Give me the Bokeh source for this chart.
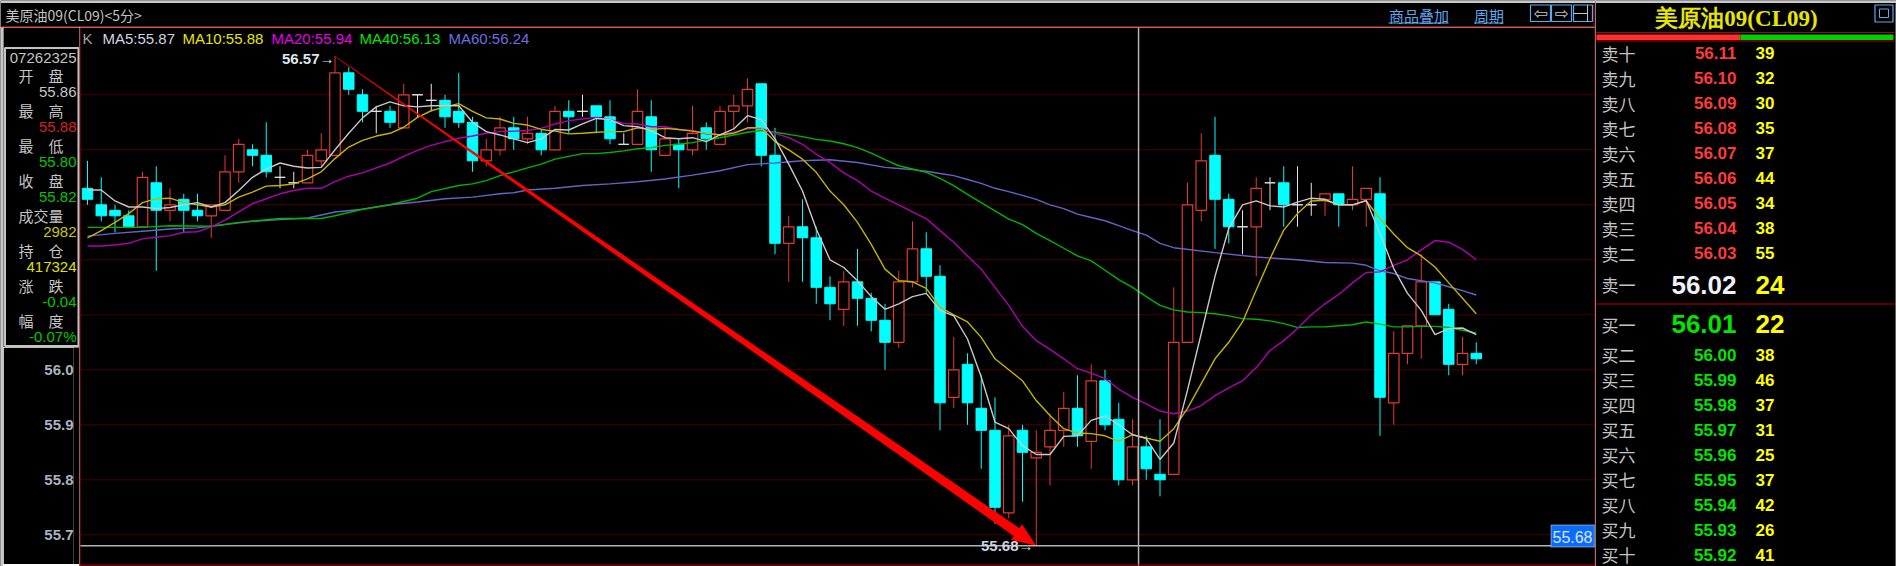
from bokeh.embed import file_html
from bokeh.resources import INLINE
from bokeh.plotting import figure
from bokeh.layouts import row, column
from bokeh.models import (BoxAnnotation, ColumnDataSource, FixedTicker, Label, LinearAxis,
                          NumeralTickFormatter, Range1d, Span)
from bokeh.core.properties import value

opens = [56.33,56.30,56.29,56.28,56.26,56.34,56.29,56.31,56.29,56.28,56.29,56.36,56.40,56.39,56.35,56.34,56.34,
         56.38,56.39,56.54,56.50,56.47,56.47,56.44,56.50,56.49,56.49,56.47,56.45,56.38,56.40,56.44,56.42,56.43,
         56.40,56.47,56.47,56.48,56.46,56.41,56.41,56.46,56.39,56.41,56.40,56.44,56.41,56.47,56.48,56.52,56.39,
         56.23,56.26,56.24,56.15,56.11,56.16,56.13,56.09,56.05,56.16,56.22,56.17,55.95,56.01,55.93,55.89,55.74,
         55.89,55.84,55.86,55.89,55.93,55.87,55.98,55.91,55.80,55.86,55.81,55.81,56.05,56.29,56.39,56.31,56.26,
         56.26,56.34,56.34,56.30,56.30,56.31,56.32,56.30,56.31,56.32,55.94,56.03,56.08,56.16,56.11,56.01,56.03]
highs = [56.38,56.35,56.30,56.29,56.36,56.37,56.33,56.32,56.32,56.30,56.39,56.42,56.41,56.45,56.37,56.36,56.40,
         56.43,56.57,56.55,56.51,56.48,56.48,56.52,56.50,56.52,56.50,56.54,56.46,56.42,56.46,56.46,56.46,56.44,
         56.48,56.49,56.50,56.48,56.49,56.43,56.51,56.49,56.44,56.42,56.48,56.45,56.48,56.50,56.53,56.52,56.44,
         56.28,56.31,56.26,56.17,56.18,56.22,56.14,56.12,56.18,56.27,56.25,56.19,56.06,56.03,55.99,55.95,55.90,
         55.90,55.89,55.92,55.96,55.99,56.01,56.00,55.94,55.91,55.88,55.91,56.15,56.34,56.43,56.46,56.32,56.29,
         56.35,56.35,56.37,56.37,56.34,56.32,56.32,56.37,56.33,56.35,56.07,56.08,56.21,56.16,56.12,56.06,56.05]
lows = [56.30,56.27,56.25,56.26,56.26,56.18,56.27,56.25,56.27,56.24,56.29,56.34,56.37,56.35,56.33,56.33,56.34,
        56.37,56.39,56.50,56.45,56.43,56.44,56.44,56.46,56.47,56.44,56.44,56.36,56.37,56.39,56.40,56.41,56.39,
        56.40,56.43,56.46,56.43,56.41,56.41,56.41,56.36,56.39,56.33,56.39,56.40,56.41,56.44,56.45,56.37,56.21,
        56.16,56.16,56.12,56.09,56.08,56.08,56.07,56.00,56.04,56.15,56.14,55.89,55.93,55.90,55.82,55.72,55.73,
        55.76,55.68,55.79,55.86,55.86,55.82,55.89,55.79,55.79,55.80,55.77,55.81,56.05,56.27,56.22,56.23,56.21,
        56.17,56.29,56.26,56.26,56.28,56.28,56.26,56.29,56.26,55.88,55.90,56.01,56.02,56.10,55.99,55.99,56.01]
closes = [56.31,56.28,56.28,56.26,56.35,56.29,56.30,56.29,56.28,56.30,56.36,56.41,56.39,56.36,56.35,56.34,56.39,
          56.40,56.54,56.51,56.47,56.47,56.45,56.50,56.50,56.49,56.46,56.45,56.38,56.40,56.44,56.42,56.43,56.40,
          56.47,56.46,56.47,56.46,56.42,56.41,56.47,56.40,56.42,56.40,56.43,56.42,56.47,56.48,56.51,56.39,56.23,
          56.26,56.24,56.15,56.12,56.16,56.13,56.09,56.05,56.16,56.22,56.17,55.94,56.00,55.94,55.89,55.75,55.88,
          55.85,55.85,55.89,55.93,55.88,55.98,55.90,55.80,55.86,55.82,55.80,56.05,56.30,56.38,56.31,56.26,56.26,
          56.33,56.34,56.30,56.30,56.30,56.32,56.30,56.31,56.33,55.95,56.03,56.08,56.16,56.10,56.01,56.03,56.02]

ma5 = [56.327,56.327,56.307,56.296,56.296,56.293,56.295,56.300,56.304,56.296,56.304,56.326,56.350,56.365,56.376,
       56.370,56.367,56.368,56.400,56.430,56.458,56.478,56.487,56.480,56.478,56.480,56.480,56.480,56.450,56.433,
       56.427,56.420,56.413,56.420,56.437,56.436,56.447,56.457,56.455,56.444,56.442,56.435,56.422,56.420,56.422,
       56.415,56.427,56.438,56.462,56.455,56.420,56.374,56.325,56.256,56.200,56.186,56.162,56.133,56.110,56.120,
       56.133,56.139,56.108,56.098,56.056,55.987,55.905,55.893,55.862,55.846,55.846,55.879,55.880,55.908,55.916,
       55.900,55.882,55.875,55.837,55.867,55.963,56.066,56.170,56.257,56.300,56.307,56.298,56.296,56.305,56.312,
       56.310,56.300,56.300,56.308,56.248,56.184,56.139,56.108,56.064,56.075,56.076,56.064]
ma10 = [56.240,56.253,56.268,56.284,56.304,56.311,56.312,56.304,56.300,56.296,56.300,56.314,56.323,56.334,56.335,
        56.338,56.347,56.360,56.384,56.405,56.417,56.425,56.430,56.441,56.459,56.471,56.478,56.484,56.470,56.458,
        56.456,56.448,56.445,56.437,56.434,56.429,56.430,56.432,56.433,56.433,56.440,56.437,56.439,56.437,56.434,
        56.430,56.427,56.430,56.440,56.440,56.415,56.400,56.383,56.359,56.325,56.300,56.268,56.228,56.183,56.162,
        56.160,56.148,56.114,56.100,56.087,56.059,56.020,56.000,55.980,55.944,55.917,55.893,55.885,55.884,55.880,
        55.870,55.882,55.876,55.870,55.893,55.930,55.975,56.020,56.050,56.087,56.145,56.202,56.254,56.284,56.307,
        56.308,56.300,56.300,56.307,56.275,56.247,56.222,56.207,56.187,56.158,56.130,56.102]
ma20 = [56.225,56.225,56.227,56.230,56.238,56.241,56.244,56.250,56.251,56.260,56.272,56.287,56.302,56.311,56.320,
        56.326,56.330,56.330,56.342,56.352,56.358,56.367,56.376,56.388,56.399,56.408,56.415,56.421,56.425,56.430,
        56.433,56.434,56.435,56.439,56.447,56.453,56.456,56.459,56.455,56.448,56.447,56.442,56.442,56.437,56.435,
        56.429,56.428,56.432,56.438,56.439,56.430,56.422,56.410,56.392,56.377,56.358,56.344,56.325,56.312,56.300,
        56.287,56.275,56.253,56.232,56.207,56.183,56.150,56.117,56.079,56.053,56.037,56.020,56.002,55.994,55.984,
        55.965,55.950,55.938,55.925,55.920,55.925,55.935,55.953,55.967,55.980,56.004,56.035,56.053,56.075,56.100,
        56.120,56.137,56.158,56.177,56.178,56.190,56.200,56.218,56.235,56.232,56.219,56.200]
ma40_idx = [0,4,6,9,11,14,17,18,20,22,24,25,27,28,29,30,31,32,33,34,35,36,37,38,39,40,41,42,43,44,45,46,47,48,49,
            50,51,52,53,54,55,56,57,58,59,60,61,62,63,64,65,66,67,68,69,70,71,72,73,74,75,76,77,78,79,80,81,82,83,
            84,85,86,87,88,89,90,91,92,93,94,95,96,97,98,99,100,101]
ma40 = [56.259,56.259,56.262,56.261,56.268,56.275,56.275,56.280,56.292,56.300,56.312,56.324,56.335,56.338,56.344,
        56.353,56.360,56.367,56.374,56.383,56.388,56.393,56.393,56.395,56.398,56.402,56.404,56.408,56.410,56.413,
        56.418,56.422,56.427,56.432,56.435,56.432,56.428,56.424,56.419,56.416,56.411,56.404,56.394,56.382,56.371,
        56.365,56.359,56.348,56.335,56.319,56.304,56.289,56.274,56.264,56.248,56.235,56.221,56.207,56.198,56.181,
        56.164,56.150,56.133,56.117,56.109,56.105,56.104,56.102,56.098,56.093,56.092,56.089,56.084,56.077,56.078,
        56.078,56.080,56.082,56.087,56.083,56.078,56.078,56.079,56.079,56.077,56.072,56.067]
ma60_idx = [0,2,4,6,8,10,12,14,16,18,20,22,24,26,28,30,31,32,34,36,38,40,42,44,46,48,50,52,54,56,58,59,60,61,62,63,
            64,65,66,67,68,69,70,71,72,73,74,75,76,77,78,79,82,85,88,90,92,93,94,95,96,97,98,99,100,101]
ma60 = [56.243,56.248,56.252,56.256,56.258,56.264,56.270,56.273,56.276,56.287,56.292,56.300,56.305,56.311,56.314,
        56.320,56.322,56.327,56.330,56.335,56.338,56.342,56.347,56.354,56.362,56.373,56.376,56.380,56.382,56.377,
        56.368,56.366,56.364,56.361,56.357,56.353,56.346,56.339,56.330,56.324,56.317,56.310,56.300,56.293,56.283,
        56.277,56.271,56.262,56.253,56.245,56.230,56.222,56.213,56.205,56.200,56.195,56.194,56.190,56.180,56.175,
        56.166,56.162,56.158,56.151,56.144,56.136]

price_ticks = [55.7, 55.8, 55.9, 56.0]
grid_levels = [55.7, 55.8, 55.9, 56.0, 56.1, 56.2, 56.3, 56.4, 56.5]
high_mark = (18, 56.57)
low_mark = (69, 55.68)
cursor_x = 76.44

legend_names = ["MA5:55.87", "MA10:55.88", "MA20:55.94", "MA40:56.13", "MA60:56.24"]
info_names = ["开　盘", "最　高", "最　低", "收　盘", "成交量", "持　仓", "涨　跌", "幅　度"]
info_values = ["55.86", "55.88", "55.80", "55.82", "2982", "417324", "-0.04", "-0.07%"]

ask_names = ["卖十", "卖九", "卖八", "卖七", "卖六", "卖五", "卖四", "卖三", "卖二"]
ask_prices = [56.11, 56.10, 56.09, 56.08, 56.07, 56.06, 56.05, 56.04, 56.03]
ask_sizes = [39, 32, 30, 35, 37, 44, 34, 38, 55]
bid_names = ["买二", "买三", "买四", "买五", "买六", "买七", "买八", "买九", "买十"]
bid_prices = [56.00, 55.99, 55.98, 55.97, 55.96, 55.95, 55.94, 55.93, 55.92]
bid_sizes = [38, 46, 37, 31, 25, 37, 42, 26, 41]

# Styling
BG = "#000000"
RED = "#b80000"
CANDLE_RED = "#e03a32"
CYAN = "#00ffff"
DOJI = "#e6e6e6"
SILVER = "#c4c4c4"
FRAME_GRAY = "#c8c8c8"
BLUE = "#5ea8f0"
NUM = "Liberation Sans"
CJK = "Noto Sans CJK SC"
STEP = 13.75     # px per candle
SCALE = 550.0    # px per price unit
X0, Y56 = 87.0, 369.3  # reference pixel of candle 0 and of price 56


def dx(px):
    return (px - X0) / STEP


def dy(py):
    return 56 + (Y56 - py) / SCALE


def pixel_fig(x0, x1, y0, y1):
    """A panel whose data coordinates are picture pixels."""
    f = figure(width=x1 - x0, height=y1 - y0, output_backend="svg", toolbar_location=None,
               x_range=Range1d(x0, x1), y_range=Range1d(y1, y0),
               x_axis_location=None, y_axis_location=None,
               min_border_left=0, min_border_right=0, min_border_top=0, min_border_bottom=0,
               background_fill_color=BG, border_fill_color=BG, outline_line_color=None)
    f.xgrid.visible = False
    f.ygrid.visible = False
    return f


def texts(f, xs, ys, strs, color, size, font=NUM, style="normal", align="left"):
    f.text(xs, ys, text=strs, text_color=color, text_font=value(font), text_font_size=f"{size}px",
           text_font_style=style, text_align=align, text_baseline="middle")


def rect(f, x0, x1, y0, y1, fill=None, line=None, width=1):
    f.quad(left=[x0], right=[x1], top=[y0], bottom=[y1], fill_color=fill, line_color=line, line_width=width)


# ---------------- chart ----------------
p = figure(width=1516, height=539, output_backend="svg", toolbar_location=None,
           x_range=Range1d(dx(79), dx(1595)), y_range=Range1d(dy(566), dy(27)),
           x_axis_location=None, y_axis_location=None,
           min_border_left=0, min_border_right=0, min_border_top=0, min_border_bottom=0,
           background_fill_color=BG, border_fill_color=BG, outline_line_color=None)
p.xgrid.visible = False
p.ygrid.visible = False

for lvl in grid_levels:
    p.add_layout(Span(location=lvl, dimension="width", line_color="#8c0000", line_width=1,
                      line_dash="1 1", level="underlay"))

idx = list(range(len(opens)))
kinds = ["up" if c > o else "down" if c < o else "flat" for o, c in zip(opens, closes)]
colors = {"up": CANDLE_RED, "down": CYAN, "flat": DOJI}
for kind in ("up", "down", "flat"):
    sel = [i for i in idx if kinds[i] == kind]
    src = ColumnDataSource(dict(x=sel, h=[highs[i] for i in sel], l=[lows[i] for i in sel],
                                t=[max(opens[i], closes[i]) for i in sel],
                                b=[min(opens[i], closes[i]) for i in sel]))
    col = colors[kind]
    p.segment("x", "h", "x", "l", source=src, line_color=col, line_width=1)
    body_fill = BG if kind == "up" else col
    p.vbar("x", 10.5 / STEP, "t", "b", source=src, fill_color=body_fill, line_color=col,
           line_width=1.2 if kind == "up" else 1)

p.line(ma60_idx, ma60, line_color="#6464c8", line_width=1.4)
p.line(ma40_idx, ma40, line_color="#00b400", line_width=1.4)
p.line(idx, ma20, line_color="#b000b0", line_width=1.4)
p.line(idx, ma10, line_color="#c4b400", line_width=1.4)
p.line(idx, ma5, line_color="#c8c8c8", line_width=1.4)

# Tapered red arrow from the high to the low, built in pixel space then mapped to data
hx, hy = high_mark
lx, ly = low_mark
ax, ay = (lx - hx) * STEP, (hy - ly) * SCALE
length = (ax * ax + ay * ay) ** 0.5
ux, uy = ax / length, ay / length
nx, ny = -uy, ux


def along(dist, off):
    return hx + (ux * dist + nx * off) / STEP, hy - (uy * dist + ny * off) / SCALE


base = length - 24
outline = [along(0, 0.3), along(base, 4.8), along(base, 9.5), along(length, 0),
           along(base, -9.5), along(base, -4.8), along(0, -0.3)]
p.patch([pt[0] for pt in outline], [pt[1] for pt in outline], fill_color="#ff0000", line_color=None)

p.add_layout(Span(location=cursor_x, dimension="height", line_color="#b4b4b4", line_width=1.5))
p.add_layout(Span(location=low_mark[1], dimension="width", line_color="#b4b4b4", line_width=1.5))
p.add_layout(Span(location=dx(79.5), dimension="height", line_color=RED, line_width=1))
p.add_layout(Span(location=dx(1594.5), dimension="height", line_color=RED, line_width=1))
p.add_layout(Span(location=dy(564.5), dimension="width", line_color=RED, line_width=1))


def label(px, py, text, color=SILVER, size=15, font=NUM, style="normal", align="left"):
    p.add_layout(Label(x=dx(px), y=dy(py), text=text, text_color=color, text_font=font,
                       text_font_size=f"{size}px", text_font_style=style, text_align=align,
                       text_baseline="middle"))


label(82, 38, "K", color="#a0a0a0", size=15)
legend_x = [102, 182, 271, 359, 448]
legend_c = ["#d0d4e0", "#e6e600", "#e600e6", "#00e600", "#6e6ee0"]
for lx_, name, col in zip(legend_x, legend_names, legend_c):
    label(lx_, 38, name, color=col, size=15)

label(334, 58, "56.57→", color="#dfe6f0", size=15, style="bold", align="right")
label(1033, 545, "55.68→", color="#cfd6e0", size=15, style="bold", align="right")

p.add_layout(BoxAnnotation(left=dx(1550.5), right=dx(1594), top=dy(524.5), bottom=dy(546.5), fill_color="#0a6cff",
                           fill_alpha=1, line_color="#ffffff", line_width=1.5, editable=False))
label(1572, 536, "55.68", color="#d8e6ff", size=16, align="center")

# ---------------- header strip ----------------
h = pixel_fig(0, 1595, 0, 27)
rect(h, 0, 1595, 0, 2.5, fill=FRAME_GRAY)
h.segment([0], [26], [1595], [26], line_color=RED, line_width=1)
h.segment([1593.5], [3], [1593.5], [27], line_color=RED, line_width=1)
texts(h, [5], [14.5], ["美原油09(CL09)<5分>"], SILVER, 14, font=CJK)
texts(h, [1418.5], [14.5], ["商品叠加"], BLUE, 15, font=CJK, align="center")
texts(h, [1488.5], [14.5], ["周期"], BLUE, 15, font=CJK, align="center")
h.segment([1388, 1474], [22.5, 22.5], [1448, 1503], [22.5, 22.5], line_color=BLUE, line_width=1)
for left, right, mark in ((1530, 1550, "⇦"), (1551, 1571, "⇨")):
    rect(h, left, right, 4.5, 21, line=BLUE, width=1.2)
    texts(h, [(left + right) / 2], [12.5], [mark], SILVER, 17, font="DejaVu Sans", align="center")
rect(h, 1573, 1592, 4.5, 21, line=BLUE, width=1.2)
h.segment([1573], [13], [1587], [13], line_color=SILVER, line_width=1)
h.segment([1587], [4.5], [1587], [21], line_color=SILVER, line_width=1)

# ---------------- left information box ----------------
INFO_TOP, INFO_BOT = 27, 347
info = pixel_fig(3, 79, INFO_TOP, INFO_BOT)
rect(info, 4.5, 78, 47.5, 345.5, line=SILVER, width=2)
texts(info, [76], [57], ["07262325"], SILVER, 15, align="right")
value_colors = [SILVER, "#d82020", "#00c800", "#00c800", "#c8c800", "#e0e000", "#00c800", "#00c800"]
info_name_y = [75 + 35 * k for k in range(len(info_names))]
info_value_y = [91 + 35 * k for k in range(len(info_names))]
texts(info, [40.5] * 8, info_name_y, info_names, SILVER, 15, font=CJK, align="center")
for yy, val, col in zip(info_value_y, info_values, value_colors):
    texts(info, [76], [yy], [val], col, 15, align="right")

# ---------------- price axis ----------------
AXIS_BOT = 564
axis_fig = figure(width=76, height=AXIS_BOT - INFO_BOT, output_backend="svg", toolbar_location=None,
                  x_range=Range1d(0, 1), y_range=Range1d(dy(AXIS_BOT), dy(INFO_BOT)),
                  x_axis_location=None, y_axis_location=None,
                  min_border_left=70, min_border_right=0, min_border_top=0, min_border_bottom=0,
                  background_fill_color=BG, border_fill_color=BG, outline_line_color=None)
axis_fig.xgrid.visible = False
axis_fig.ygrid.visible = False
axis_fig.add_layout(LinearAxis(ticker=FixedTicker(ticks=price_ticks),
                               formatter=NumeralTickFormatter(format="0.0"),
                               axis_line_color=None, major_tick_line_color=None, minor_tick_line_color=None,
                               major_label_text_color="#aab4c0", major_label_text_font=NUM,
                               major_label_text_font_size="15px", major_label_text_font_style="bold",
                               major_tick_in=0, major_tick_out=0, major_label_standoff=0), "left")

# Thin window-edge strips
strip_bottom = pixel_fig(3, 79, 564, 566)
rect(strip_bottom, 3, 79, 564, 565, fill=RED)
strip_left = pixel_fig(0, 3, 27, 566)
rect(strip_left, 0, 2.5, 27, 566, fill=FRAME_GRAY)

# ---------------- quote panel ----------------
q = pixel_fig(1595, 1896, 0, 566)
rect(q, 1595, 1896, 0, 2.5, fill=FRAME_GRAY)
q.segment([1595, 1595, 1595], [32, 40.5, 303.5], [1894, 1894, 1896], [32, 40.5, 303.5],
          line_color=RED, line_width=1)
q.segment([1895], [3], [1895], [566], line_color="#606060", line_width=1)
rect(q, 1596, 1740, 34, 39.5, fill="#ff3030")
rect(q, 1740, 1893, 34, 39.5, fill="#00d000")
rect(q, 1874.5, 1892.5, 4.5, 21.5, line=BLUE, width=1.2)
rect(q, 1879, 1888, 8.5, 17, line=BLUE, width=1)
texts(q, [1736], [17.5], ["美原油09(CL09)"], "#e6e600", 23, font="Liberation Serif", style="bold", align="center")

ask_y = [52.7 + 25 * k for k in range(len(ask_names))]
bid_y = [354 + 25 * k for k in range(len(bid_names))]
texts(q, [1601] * 9, ask_y, ask_names, SILVER, 17, font=CJK)
texts(q, [1736] * 9, ask_y, [f"{v:.2f}" for v in ask_prices], "#ff3a3a", 17, style="bold", align="right")
texts(q, [1755] * 9, ask_y, [str(v) for v in ask_sizes], "#ffff00", 17, style="bold")
texts(q, [1601], [284], ["卖一"], SILVER, 17, font=CJK)
texts(q, [1736], [284], ["56.02"], "#eef2fa", 26, style="bold", align="right")
texts(q, [1755], [284], ["24"], "#ffff00", 26, style="bold")
texts(q, [1601], [323.5], ["买一"], SILVER, 17, font=CJK)
texts(q, [1736], [323.5], ["56.01"], "#00e600", 26, style="bold", align="right")
texts(q, [1755], [323.5], ["22"], "#ffff00", 26, style="bold")
texts(q, [1601] * 9, bid_y, bid_names, SILVER, 17, font=CJK)
texts(q, [1736] * 9, bid_y, [f"{v:.2f}" for v in bid_prices], "#00e600", 17, style="bold", align="right")
texts(q, [1755] * 9, bid_y, [str(v) for v in bid_sizes], "#ffff00", 17, style="bold")

# Nested single-child rows keep the panels of the left column from aligning their frames.
left_col = column(row(info, spacing=0), row(axis_fig, spacing=0), row(strip_bottom, spacing=0), spacing=0)
lower = row(strip_left, left_col, p, spacing=0)
main = column(h, lower, spacing=0)
layout = row(main, q, spacing=0)
open("out.html", "w").write(file_html(layout, INLINE))
